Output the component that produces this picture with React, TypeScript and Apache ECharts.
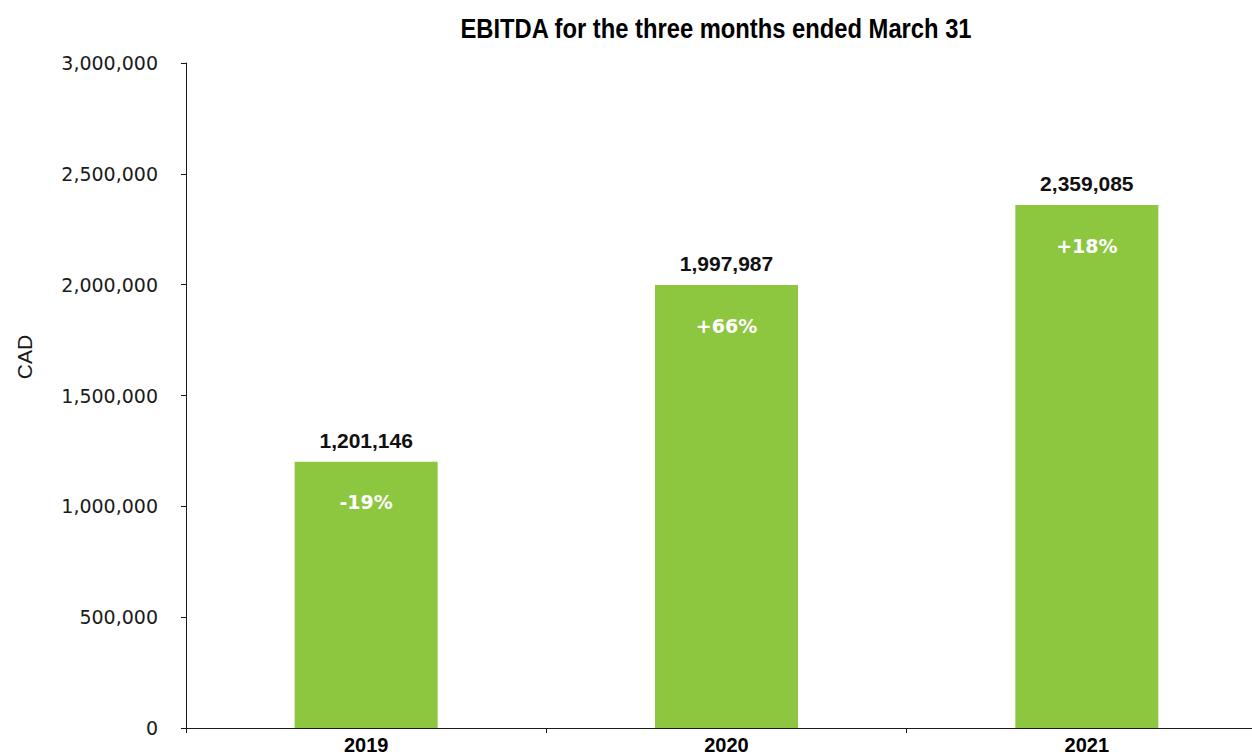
import React, { useEffect, useRef } from "react";
import * as echarts from "echarts";

const categories: string[] = ["2019", "2020", "2021"];
const ebitda: number[] = [1201146, 1997987, 2359085];
const changeLabels: string[] = ["-19%", "+66%", "+18%"];
const yTicks = { min: 0, max: 3000000, interval: 500000 };
const titleText = "EBITDA for the three months ended March 31";
const yAxisTitle = "CAD";

const BAR_COLOR = "#8DC63F";
const AXIS_COLOR = "#1a1a1a";

export default function App() {
  const ref = useRef<HTMLDivElement>(null);

  useEffect(() => {
    if (!ref.current) return;
    const chart = echarts.init(ref.current, null, { renderer: "svg" });
    chart.setOption({
      animation: false,
      backgroundColor: "#ffffff",
      grid: {
        left: 186,
        top: 63,
        width: 1081,
        height: 665,
        containLabel: false,
        outerBoundsMode: "none",
      },
      graphic: [
        {
          type: "text",
          x: 716,
          y: 28,
          scaleX: 0.88,
          style: {
            text: titleText,
            fill: "#000000",
            font: 'bold 27px "Liberation Sans", Arial, sans-serif',
            textAlign: "center",
            textVerticalAlign: "middle",
          },
        },
        {
          type: "text",
          x: 24,
          y: 357,
          rotation: Math.PI / 2,
          style: {
            text: yAxisTitle,
            fill: "#1a1a1a",
            font: '21px "Liberation Sans", Arial, sans-serif',
            textAlign: "center",
            textVerticalAlign: "middle",
          },
        },
      ],
      xAxis: {
        type: "category",
        data: categories,
        axisLine: { show: true, lineStyle: { color: AXIS_COLOR, width: 1 } },
        axisTick: {
          show: true,
          alignWithLabel: false,
          length: 5,
          lineStyle: { color: AXIS_COLOR },
        },
        axisLabel: {
          margin: 7,
          color: "#000000",
          fontFamily: '"Liberation Sans", Arial, sans-serif',
          fontWeight: "bold",
          fontSize: 20,
          lineHeight: 20,
        },
        splitLine: { show: false },
      },
      yAxis: {
        type: "value",
        min: yTicks.min,
        max: yTicks.max,
        interval: yTicks.interval,
        axisLine: { show: true, lineStyle: { color: AXIS_COLOR, width: 1 } },
        axisTick: { show: true, length: 5, lineStyle: { color: AXIS_COLOR } },
        axisLabel: {
          margin: 28,
          color: "#1a1a1a",
          fontFamily: '"DejaVu Sans", Verdana, sans-serif',
          fontSize: 19,
          formatter: (v: number) => v.toLocaleString("en-US"),
        },
        splitLine: { show: false },
      },
      series: [
        {
          type: "bar",
          data: ebitda,
          barWidth: 143,
          itemStyle: { color: BAR_COLOR },
          label: {
            show: true,
            position: "top",
            distance: 11,
            color: "#111111",
            fontFamily: '"Liberation Sans", Arial, sans-serif',
            fontWeight: "bold",
            fontSize: 21,
            formatter: (p: any) => Number(p.value).toLocaleString("en-US"),
          },
        },
        {
          type: "bar",
          data: ebitda,
          barWidth: 143,
          barGap: "-100%",
          silent: true,
          itemStyle: { color: "rgba(0,0,0,0)" },
          label: {
            show: true,
            position: "insideTop",
            distance: 31,
            color: "#ffffff",
            fontFamily: '"DejaVu Sans", Verdana, sans-serif',
            fontWeight: "bold",
            fontSize: 19,
            formatter: (p: any) => changeLabels[p.dataIndex],
          },
        },
      ],
    });
    return () => chart.dispose();
  }, []);

  return (
    <div
      ref={ref}
      style={{ position: "absolute", left: 0, top: 0, width: 1252, height: 755 }}
    />
  );
}
